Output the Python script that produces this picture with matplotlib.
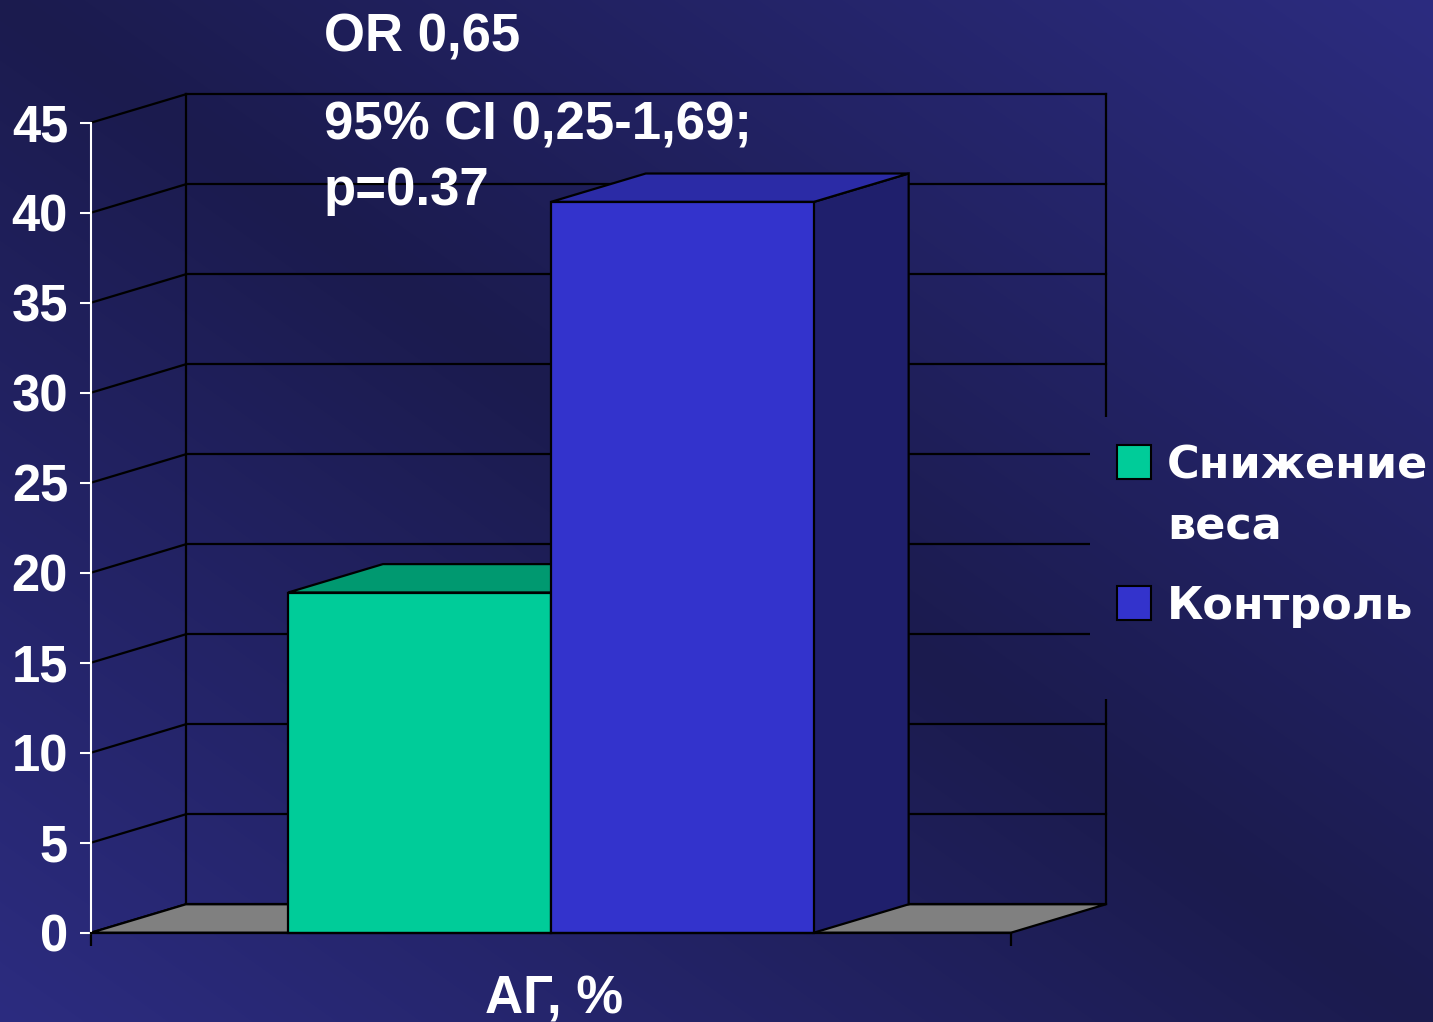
import numpy as np
import matplotlib
matplotlib.use("Agg")
import matplotlib.pyplot as plt
from matplotlib.patches import Polygon, Rectangle

W, H = 1433, 1022
DPI = 100

# ---- data -------------------------------------------------------------
category = "АГ, %"
series = ["Снижение\nвеса", "Контроль"]
values = [18.9, 40.6]
y_ticks = [0, 5, 10, 15, 20, 25, 30, 35, 40, 45]
stats_lines = ["OR 0,65", "95% CI 0,25-1,69;", "p=0.37"]

# ---- style ------------------------------------------------------------
front_colors = ["#00CC99", "#3333CC"]
top_colors = ["#009970", "#2B2BA6"]
side_colors = ["#007A5A", "#1F1F6C"]
floor_color = "#808080"
bg_dark = np.array([0x1B, 0x1B, 0x4E]) / 255
bg_bright = np.array([0x2C, 0x2C, 0x80]) / 255

plt.rcParams["font.family"] = ["Liberation Sans", "DejaVu Sans"]
plt.rcParams["font.weight"] = "bold"

fig = plt.figure(figsize=(W / DPI, H / DPI), dpi=DPI)


def px(x, y):
    """Pixel position (from top-left) to figure fraction."""
    return x / W, 1 - y / H


# ---- diagonal background gradient --------------------------------------
yy, xx = np.mgrid[0:H, 0:W]
t = np.clip(np.abs(xx / W - yy / H), 0, 1)
grad = bg_dark + (bg_bright - bg_dark) * t[..., None]
bg = fig.add_axes([0, 0, 1, 1], zorder=-2)
bg.imshow(grad, aspect="auto", interpolation="bilinear")
bg.axis("off")

# ---- main 3D-look axes --------------------------------------------------
ax_l, ax_r, ax_top, ax_bot = 91, 1011, 122.7, 932.7
ax = fig.add_axes([ax_l / W, 1 - ax_bot / H, (ax_r - ax_l) / W, (ax_bot - ax_top) / H])
ymax = y_ticks[-1]
ax.set_xlim(0, 1)
ax.set_ylim(0, ymax)
ax.patch.set_alpha(0)

# depth of the box (in data units)
dx = 94.8 / (ax_r - ax_l)
dy = 28.4 * ymax / (ax_bot - ax_top)

lw = 1.6
# back wall grid lines and left-side diagonals
for v in y_ticks:
    ax.plot([dx, 1 + dx], [v + dy, v + dy], color="black", lw=lw, clip_on=False, zorder=1)
    ax.plot([0, dx], [v, v + dy], color="black", lw=lw, clip_on=False, zorder=1)
for xe in (dx, 1 + dx):
    ax.plot([xe, xe], [dy, ymax + dy], color="black", lw=lw, clip_on=False, zorder=1)

# floor
ax.add_patch(Polygon([(0, 0), (1, 0), (1 + dx, dy), (dx, dy)], closed=True,
                     facecolor=floor_color, edgecolor="black", lw=lw,
                     clip_on=False, zorder=2))

# bars (gap width 150%)
n = len(values)
w = 1 / (n + 1.5)
x_start = 0.5 - w * n / 2
for i, val in enumerate(values):
    x0 = x_start + i * w
    x1 = x0 + w
    z = 3 + i
    ax.add_patch(Polygon([(x1, 0), (x1 + dx, dy), (x1 + dx, val + dy), (x1, val)],
                         closed=True, facecolor=side_colors[i], edgecolor="black",
                         lw=lw, clip_on=False, zorder=z))
    ax.add_patch(Polygon([(x0, val), (x1, val), (x1 + dx, val + dy), (x0 + dx, val + dy)],
                         closed=True, facecolor=top_colors[i], edgecolor="black",
                         lw=lw, clip_on=False, zorder=z))
    ax.add_patch(Rectangle((x0, 0), w, val, facecolor=front_colors[i],
                           edgecolor="black", lw=lw, clip_on=False, zorder=z))

# axes lines and ticks
for s in ("top", "right"):
    ax.spines[s].set_visible(False)
ax.spines["left"].set_color("white")
ax.spines["left"].set_linewidth(1.5)
ax.spines["bottom"].set_color("black")
ax.spines["bottom"].set_linewidth(lw)
ax.spines["left"].set_zorder(10)
ax.spines["bottom"].set_zorder(10)

ax.set_yticks(y_ticks)
ax.set_yticklabels([str(v) for v in y_ticks])
ax.tick_params(axis="y", colors="white", length=8, width=1.5, pad=8.5, labelsize=36.5)
ax.set_xticks([0, 1])
ax.set_xticklabels([])
ax.tick_params(axis="x", color="black", length=9, width=lw)

fig.text(*px(554, 1013), category, ha="center", va="baseline",
         fontsize=38, color="white", fontweight="bold")

# statistics annotation
for line, base in zip(stats_lines, [52, 140, 205]):
    fig.text(*px(324, base), line, ha="left", va="baseline",
             fontsize=38, color="white", fontweight="bold")

# ---- legend --------------------------------------------------------------
lg_l, lg_r, lg_t, lg_b = 1090, W, 417, 699
leg = fig.add_axes([lg_l / W, 1 - lg_b / H, (lg_r - lg_l) / W, (lg_b - lg_t) / H], zorder=5)
leg.imshow(grad[lg_t:lg_b, lg_l:lg_r], aspect="auto", interpolation="bilinear")
leg.axis("off")

entry_tops = [445, 586]
for i, (name, top) in enumerate(zip(series, entry_tops)):
    x0, y0 = px(1117, top + 34)
    leg.add_artist(Rectangle((x0, y0), 34 / W, 34 / H, transform=fig.transFigure,
                             facecolor=front_colors[i], edgecolor="black", lw=1.5,
                             clip_on=False))
    for j, part in enumerate(name.split("\n")):
        tx, ty = px(1167, top + 33 + j * 62)
        leg.text(tx, ty, part, transform=fig.transFigure, ha="left", va="baseline",
                 fontsize=32, color="white", fontweight="bold",
                 family=["DejaVu Sans"], clip_on=False)

fig.savefig("out.png", dpi=DPI)
